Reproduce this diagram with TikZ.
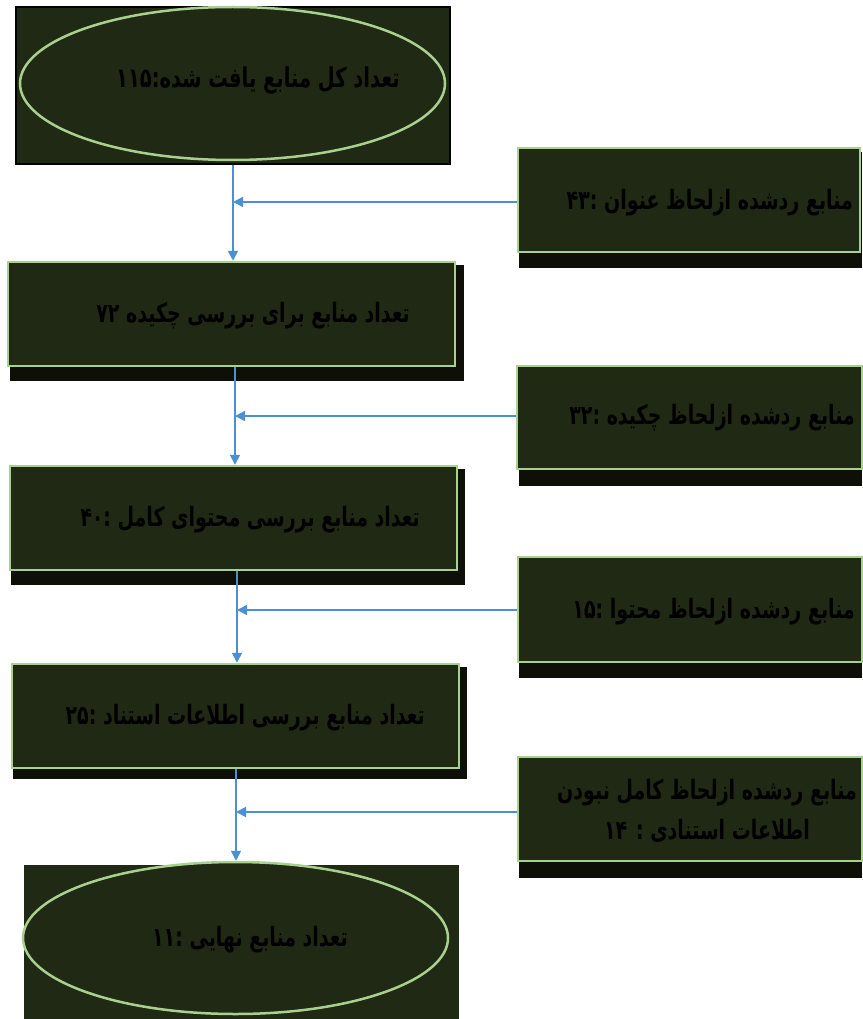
\documentclass[tikz,border=0pt]{standalone}
\usepackage{fontspec}
\usepackage{graphicx}
\newfontfamily\fa[Script=Arabic]{DejaVu Sans}
\TeXXeTstate=1
\usetikzlibrary{arrows.meta,shapes.geometric}
\definecolor{boxfill}{RGB}{31,41,19}
\definecolor{gline}{RGB}{169,208,142}
\definecolor{shadowc}{RGB}{14,16,8}
\definecolor{arrowc}{RGB}{74,144,210}
\newcommand\talltxt[1]{\scalebox{1}[1.4]{\beginR #1\endR}}
\tikzset{
 gbox/.style={rectangle, draw=gline, line width=2.5pt, fill=boxfill, inner sep=0pt},
 gell/.style={ellipse, draw=gline, line width=2.5pt, fill=boxfill, inner sep=0pt},
 frame/.style={rectangle, draw=black, line width=2pt, fill=boxfill, inner sep=0pt},
 lbl/.style={font=\fa\bfseries\fontsize{19}{26}\selectfont, text=black, inner sep=0pt, anchor=east},
 rlbl/.style={font=\fa\bfseries\fontsize{19}{26}\selectfont, text=black, inner sep=0pt, align=center},
 arr/.style={draw=arrowc, line width=1.6pt, -{Triangle[width=10pt,length=10pt]}},
 shad/.style={fill=shadowc},
}
\begin{document}
\begin{tikzpicture}[x=1pt,y=-1pt]
\useasboundingbox (0,0) rectangle (862,1019);
% shadows
\fill[shad] (519,152) rectangle (862,268);
\fill[shad] (10,265) rectangle (464,381);
\fill[shad] (519,370) rectangle (862,486);
\fill[shad] (11,469) rectangle (465,585);
\fill[shad] (519,561) rectangle (862,678);
\fill[shad] (13,667) rectangle (467,779);
\fill[shad] (519,761) rectangle (862,878);
% top
\node[frame, minimum width=434pt, minimum height=157pt] (f1) at (233,85.5) {};
\node[gell, minimum width=425pt, minimum height=153pt] (e1) at (232.5,83.5) {};
\node[lbl, font=\fa\bfseries\fontsize{19.5}{26}\selectfont] (t1) at (400,80) {\talltxt{تعداد کل منابع یافت شده:۱۱۵}};
% left boxes
\node[gbox, minimum width=447pt, minimum height=104pt] (b2) at (231.5,314) {};
\node[lbl] (t2) at (410,316) {\talltxt{تعداد منابع برای بررسی چکیده ۷۲}};
\node[gbox, minimum width=447pt, minimum height=104pt] (b3) at (233.5,518) {};
\node[lbl] (t3) at (420,520) {\talltxt{تعداد منابع بررسی محتوای کامل :۴۰}};
\node[gbox, minimum width=447pt, minimum height=104pt] (b4) at (235.5,716) {};
\node[lbl] (t4) at (425,718) {\talltxt{تعداد منابع بررسی اطلاعات استناد :۲۵}};
% bottom
\node[frame, draw=none, minimum width=435pt, minimum height=156pt] (f5) at (241.5,943) {};
\node[gell, minimum width=425pt, minimum height=152pt] (e5) at (235.5,938) {};
\node[lbl] (t5) at (348,940) {\talltxt{تعداد منابع نهایی :۱۱}};
% right boxes
\node[gbox, minimum width=342pt, minimum height=104pt] (r1) at (689,200) {};
\node[lbl] (s1) at (853,203) {\talltxt{منابع ردشده ازلحاظ عنوان :۴۳}};
\node[gbox, minimum width=345pt, minimum height=103pt] (r2) at (689.5,417.5) {};
\node[lbl] (s2) at (855,418) {\talltxt{منابع ردشده ازلحاظ چکیده :۳۲}};
\node[gbox, minimum width=344pt, minimum height=105pt] (r3) at (690,609.5) {};
\node[lbl] (s3) at (855,612) {\talltxt{منابع ردشده ازلحاظ محتوا :۱۵}};
\node[gbox, minimum width=344pt, minimum height=104pt] (r4) at (690,809) {};
\node[rlbl] (s4) at (707,811) {\talltxt{منابع ردشده ازلحاظ کامل نبودن}\\[12pt]\talltxt{اطلاعات استنادی : ۱۴}};
% vertical arrows
\draw[arr] (f1.south) -- (f1.south |- b2.north);
\draw[arr] ([xshift=3.5pt]b2.south) -- ([xshift=3.5pt]b2.south |- b3.north);
\draw[arr] ([xshift=3.5pt]b3.south) -- ([xshift=3.5pt]b3.south |- b4.north);
\draw[arr] ([xshift=0.5pt]b4.south) -- ([xshift=0.5pt]b4.south |- e5.north);
% horizontal arrows
\draw[arr] ([yshift=-2pt]r1.west) -- ([yshift=-2pt]r1.west -| f1.south);
\draw[arr] ([yshift=1.5pt]r2.west) -- ([yshift=1.5pt,xshift=3.5pt]r2.west -| b2.south);
\draw[arr] ([yshift=-0.5pt]r3.west) -- ([yshift=-0.5pt,xshift=3.5pt]r3.west -| b3.south);
\draw[arr] ([yshift=-3pt]r4.west) -- ([yshift=-3pt,xshift=0.5pt]r4.west -| b4.south);
\end{tikzpicture}
\end{document}
